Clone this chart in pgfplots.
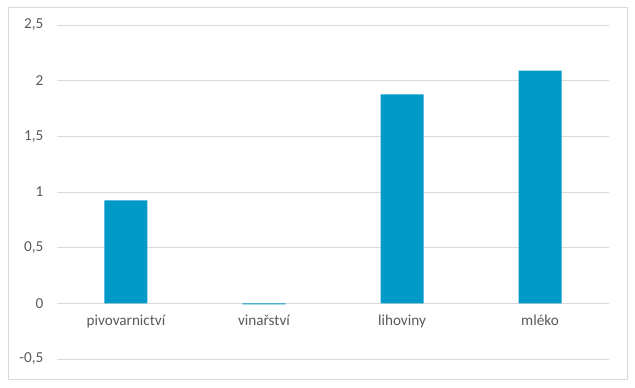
\documentclass[border=0pt]{standalone}
\usepackage{pgfplots}
\pgfplotsset{compat=1.18}
\usepackage{fontspec}
\setmainfont{Carlito}
\definecolor{barc}{RGB}{0,154,199}
\definecolor{gridc}{RGB}{217,217,217}
\definecolor{txt}{RGB}{89,89,89}
\begin{document}
\begin{tikzpicture}
\useasboundingbox (-57bp,-29bp) rectangle (578bp,359bp);
\draw[gridc, line width=0.75bp] (-49bp,-20bp) rectangle (570bp,352bp);
\begin{axis}[at={(0,0)}, anchor=south west, scale only axis,
  width=552bp, height=334bp,
  ymin=-0.5, ymax=2.5, xmin=-0.5, xmax=3.5,
  axis x line*=middle, axis y line*=left,
  x axis line style={-, draw=gridc, line width=0.75bp},
  y axis line style={draw=none},
  ytick={-0.5,0,0.5,1,1.5,2,2.5},
  yticklabels={{-0,5},0,{0,5},1,{1,5},2,{2,5}},
  xtick={0,1,2,3},
  xticklabels={pivovarnictví,vinařství,lihoviny,mléko},
  major tick length=0,
  ymajorgrids, grid style={draw=gridc, line width=0.75bp},
  tick label style={font=\fontsize{15.2bp}{18bp}\selectfont, text=txt, inner sep=0pt},
  yticklabel style={anchor=east, xshift=-13.5bp},
  xticklabel style={anchor=base, yshift=-22bp},
  ybar, bar width=43bp,
]
\addplot[fill=barc, draw=none] coordinates {(0,0.925) (1,-0.01) (2,1.876) (3,2.09)};
\end{axis}
\end{tikzpicture}
\end{document}
